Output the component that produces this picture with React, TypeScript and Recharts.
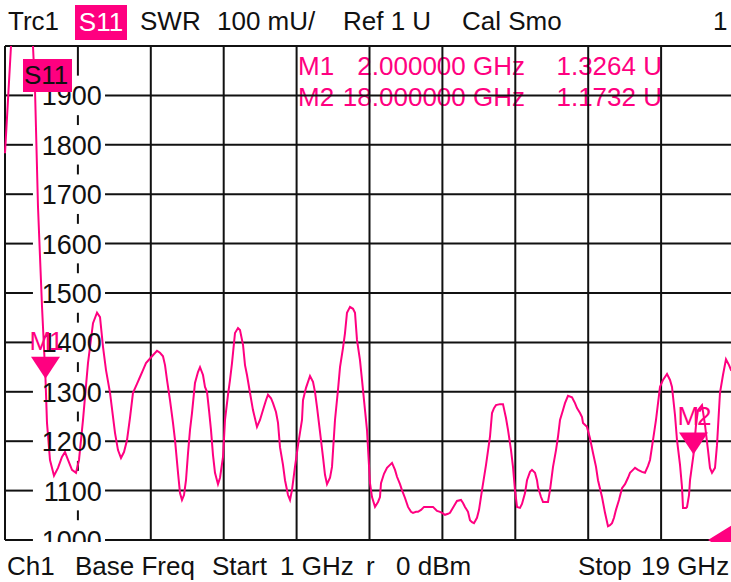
import React from "react";
import { LineChart, Line, XAxis, YAxis, ReferenceLine, ReferenceDot } from "recharts";

// trace S11 (SWR), frequency in GHz, value in mU
const freqGHz = [
  1.0, 1.074, 1.148, 1.494, 1.691, 1.741, 1.815, 1.914, 2.0, 2.037, 2.111, 2.21, 2.309, 2.407, 2.481,
  2.556, 2.654, 2.753, 2.827, 2.926, 3.049, 3.173, 3.272, 3.346, 3.42, 3.494, 3.593, 3.716, 3.79, 3.864,
  3.938, 4.012, 4.086, 4.16, 4.259, 4.333, 4.407, 4.481, 4.63, 4.753, 4.827, 4.901, 4.951, 5.0, 5.074,
  5.148, 5.198, 5.272, 5.321, 5.37, 5.42, 5.469, 5.519, 5.568, 5.617, 5.691, 5.765, 5.815, 5.889, 5.938,
  5.988, 6.037, 6.086, 6.136, 6.185, 6.259, 6.309, 6.383, 6.432, 6.506, 6.556, 6.605, 6.679, 6.753, 6.802,
  6.877, 6.926, 6.975, 7.049, 7.123, 7.222, 7.296, 7.37, 7.444, 7.494, 7.568, 7.617, 7.691, 7.741, 7.79,
  7.864, 7.914, 7.988, 8.037, 8.086, 8.16, 8.235, 8.333, 8.358, 8.432, 8.531, 8.605, 8.654, 8.704, 8.778,
  8.852, 8.901, 8.951, 9.025, 9.074, 9.148, 9.222, 9.272, 9.346, 9.395, 9.444, 9.519, 9.593, 9.642, 9.691,
  9.765, 9.815, 9.889, 9.938, 10.012, 10.062, 10.136, 10.21, 10.259, 10.284, 10.358, 10.432, 10.506, 10.556, 10.63,
  10.679, 10.753, 10.802, 10.877, 10.951, 11.025, 11.074, 11.148, 11.198, 11.272, 11.346, 11.444, 11.568, 11.667, 11.741,
  11.79, 11.864, 11.938, 11.988, 12.086, 12.16, 12.259, 12.309, 12.358, 12.432, 12.481, 12.531, 12.58, 12.654, 12.704,
  12.778, 12.877, 12.975, 13.025, 13.074, 13.123, 13.222, 13.296, 13.37, 13.42, 13.494, 13.543, 13.593, 13.642, 13.716,
  13.765, 13.84, 13.889, 13.963, 14.012, 14.086, 14.136, 14.16, 14.235, 14.284, 14.407, 14.457, 14.531, 14.605, 14.654,
  14.704, 14.778, 14.827, 14.901, 15.0, 15.074, 15.123, 15.198, 15.247, 15.272, 15.37, 15.444, 15.519, 15.593, 15.642,
  15.741, 15.815, 15.889, 15.938, 15.988, 16.037, 16.086, 16.16, 16.235, 16.309, 16.383, 16.432, 16.506, 16.556, 16.63,
  16.728, 16.802, 16.877, 16.926, 17.0, 17.074, 17.173, 17.247, 17.346, 17.42, 17.469, 17.543, 17.593, 17.667, 17.716,
  17.741, 17.815, 17.84, 17.889, 17.914, 18.0, 18.062, 18.111, 18.21, 18.284, 18.358, 18.407, 18.457, 18.531, 18.58,
  18.654, 18.728, 18.802, 18.877, 18.926, 19.0,
];

const swrMilli = [
  1783, 1891, 2000, 2498, 2000, 1911, 1674, 1472, 1326, 1237, 1162, 1130, 1146, 1168, 1178,
  1162, 1142, 1136, 1162, 1243, 1358, 1439, 1460, 1451, 1391, 1344, 1298, 1217, 1182, 1166,
  1178, 1202, 1247, 1298, 1316, 1330, 1344, 1358, 1372, 1383, 1379, 1372, 1354, 1324, 1283,
  1237, 1202, 1136, 1095, 1081, 1091, 1121, 1176, 1223, 1257, 1318, 1340, 1350, 1334, 1310,
  1300, 1263, 1223, 1172, 1136, 1113, 1126, 1168, 1243, 1294, 1324, 1358, 1419, 1429, 1425,
  1395, 1354, 1334, 1298, 1263, 1229, 1243, 1263, 1283, 1294, 1287, 1277, 1259, 1237, 1188,
  1152, 1121, 1091, 1081, 1101, 1148, 1192, 1243, 1283, 1308, 1332, 1320, 1300, 1269, 1219,
  1168, 1132, 1113, 1126, 1148, 1243, 1304, 1350, 1389, 1419, 1460, 1472, 1468, 1460, 1405,
  1364, 1324, 1263, 1223, 1115, 1087, 1067, 1077, 1087, 1115, 1134, 1146, 1152, 1156, 1142,
  1128, 1113, 1101, 1085, 1067, 1057, 1055, 1057, 1057, 1061, 1067, 1067, 1067, 1059, 1057,
  1055, 1051, 1053, 1055, 1069, 1079, 1081, 1075, 1067, 1057, 1040, 1036, 1034, 1045, 1061,
  1101, 1152, 1209, 1257, 1267, 1273, 1275, 1275, 1247, 1223, 1182, 1148, 1101, 1067, 1065,
  1073, 1095, 1121, 1138, 1142, 1136, 1121, 1107, 1087, 1077, 1077, 1101, 1148, 1182, 1209,
  1243, 1263, 1277, 1292, 1289, 1277, 1267, 1257, 1249, 1237, 1229, 1206, 1176, 1148, 1121,
  1087, 1055, 1028, 1030, 1034, 1045, 1061, 1081, 1105, 1113, 1126, 1136, 1142, 1146, 1142,
  1138, 1136, 1150, 1162, 1202, 1243, 1310, 1324, 1336, 1324, 1310, 1253, 1202, 1152, 1107,
  1065, 1065, 1067, 1091, 1121, 1173, 1233, 1263, 1273, 1233, 1182, 1146, 1136, 1146, 1192,
  1298, 1334, 1366, 1354, 1344, 1340,
];

const freqTicks = [1, 2.8, 4.6, 6.4, 8.2, 10, 11.8, 13.6, 15.4, 17.2, 19];
const levelTicks = [1000, 1100, 1200, 1300, 1400, 1500, 1600, 1700, 1800, 1900, 2000];
const levelLabels = [1900, 1800, 1700, 1600, 1500, 1400, 1300, 1200, 1100, 1000];

const markerNames = ["M1", "M2"];
const markerFreq = [2, 18];
const markerValue = [1326.4, 1173.2];
const markerFreqText = ["2.000000 GHz", "18.000000 GHz"];
const markerValueText = ["1.3264 U", "1.1732 U"];

const refLevel = 1000;

// blank area kept around the level labels (GHz from / to, mU half height)
const gapFrom = 1.69;
const gapTo = 3.47;
const gapHalf = 40;

const PINK = "#ff0080";
const INK = "#111";
const FONT = "'Liberation Sans', Arial, sans-serif";

const data = freqGHz.map((f, i) => ({ f, v: swrMilli[i] }));
const labelAxis = freqTicks[1];
const fMin = freqTicks[0];
const fMax = freqTicks[freqTicks.length - 1];
const vTop = levelTicks[levelTicks.length - 1];

function LevelLabel(props: any) {
  const { cx, cy, text } = props;
  return (
    <text x={cx + 24} y={cy + 10} textAnchor="end" fontSize={27} fontFamily={FONT} fill={INK}>
      {text}
    </text>
  );
}

function MarkerShape(props: any) {
  const { cx, cy, name } = props;
  return (
    <g>
      <text x={cx} y={cy - 29} textAnchor="middle" fontSize={26} letterSpacing={-2} fontFamily={FONT} fill={PINK}>
        {name}
      </text>
      <polygon points={`${cx},${cy} ${cx - 14.5},${cy - 22} ${cx + 14.5},${cy - 22}`} fill={PINK} />
    </g>
  );
}

function RefArrow(props: any) {
  const { cx, cy } = props;
  return <polygon points={`${cx - 26},${cy} ${cx},${cy - 16} ${cx},${cy + 16}`} fill={PINK} />;
}

const txt: React.CSSProperties = {
  position: "absolute",
  fontFamily: FONT,
  fontSize: 26,
  lineHeight: "30px",
  color: INK,
  whiteSpace: "pre",
};

export default function App() {
  const hSegments: { key: string; seg: any }[] = [];
  levelTicks.forEach((t) => {
    if (levelLabels.includes(t)) {
      hSegments.push({ key: "a" + t, seg: [{ x: fMin, y: t }, { x: gapFrom, y: t }] });
      hSegments.push({ key: "b" + t, seg: [{ x: gapTo, y: t }, { x: fMax, y: t }] });
    } else {
      hSegments.push({ key: "c" + t, seg: [{ x: fMin, y: t }, { x: fMax, y: t }] });
    }
  });
  // vertical line under the labels, broken where the labels sit
  const vSegments: { key: string; seg: any }[] = [
    { key: "v0", seg: [{ x: labelAxis, y: vTop }, { x: labelAxis, y: levelLabels[0] + gapHalf }] },
  ];
  for (let i = 0; i < levelLabels.length - 1; i++) {
    vSegments.push({
      key: "v" + (i + 1),
      seg: [
        { x: labelAxis, y: levelLabels[i] - gapHalf },
        { x: labelAxis, y: levelLabels[i + 1] + gapHalf },
      ],
    });
  }

  return (
    <div style={{ position: "fixed", left: 0, top: 0, width: 731, height: 582, overflow: "hidden", background: "#fff" }}>
      <LineChart width={740} height={582} data={data} margin={{ top: 46, right: 6, bottom: 42, left: 5 }}>
        <XAxis type="number" dataKey="f" domain={[1, 19]} ticks={freqTicks} hide />
        <YAxis type="number" domain={[1000, 2000]} ticks={levelTicks} allowDataOverflow hide />
        {freqTicks
          .filter((t) => t !== labelAxis)
          .map((t) => (
            <ReferenceLine key={"x" + t} x={t} stroke={INK} strokeWidth={2} />
          ))}
        {vSegments.map((s) => (
          <ReferenceLine key={s.key} segment={s.seg} stroke={INK} strokeWidth={2} />
        ))}
        {hSegments.map((s) => (
          <ReferenceLine key={s.key} segment={s.seg} stroke={INK} strokeWidth={2} />
        ))}
        {levelLabels.map((t) => (
          <ReferenceDot key={"l" + t} x={labelAxis} y={t} shape={(p: any) => <LevelLabel {...p} text={t} />} />
        ))}
        {markerNames.map((n, i) => (
          <text key={n} fontFamily={FONT} fontSize={26} fill={PINK}>
            <tspan x={298} y={75 + i * 31}>{n}</tspan>
            <tspan x={525} textAnchor="end">{markerFreqText[i]}</tspan>
            <tspan x={662} textAnchor="end">{markerValueText[i]}</tspan>
          </text>
        ))}
        <Line
          type="linear"
          dataKey="v"
          stroke={PINK}
          strokeWidth={2}
          dot={false}
          activeDot={false}
          isAnimationActive={false}
        />
        {markerNames.map((n, i) => (
          <ReferenceDot
            key={"m" + n}
            x={markerFreq[i]}
            y={markerValue[i]}
            shape={(p: any) => <MarkerShape {...p} name={n} />}
          />
        ))}
        <ReferenceDot x={19} y={refLevel} ifOverflow="visible" shape={(p: any) => <RefArrow {...p} />} />
      </LineChart>

      {/* trace label inside the diagram */}
      <div style={{ ...txt, left: 23, top: 59, width: 48, height: 33, background: PINK, lineHeight: "33px", paddingLeft: 1 }}>S11</div>

      {/* header */}
      <div style={{ ...txt, left: 8, top: 6 }}>Trc1</div>
      <div style={{ ...txt, left: 75, top: 5, width: 52, height: 35, background: PINK, color: "#fff", lineHeight: "35px", textAlign: "center" }}>S11</div>
      <div style={{ ...txt, left: 140, top: 6 }}>SWR</div>
      <div style={{ ...txt, left: 217, top: 6 }}>100 mU/</div>
      <div style={{ ...txt, left: 343, top: 6 }}>Ref 1 U</div>
      <div style={{ ...txt, left: 462, top: 6 }}>Cal Smo</div>
      <div style={{ ...txt, left: 713, top: 6 }}>1</div>

      {/* footer */}
      <div style={{ position: "absolute", left: 0, top: 542, width: 731, height: 40, background: "#fff" }} />
      <div style={{ ...txt, left: 7, top: 551 }}>Ch1</div>
      <div style={{ ...txt, left: 75, top: 551 }}>Base Freq</div>
      <div style={{ ...txt, left: 212, top: 551 }}>Start</div>
      <div style={{ ...txt, left: 280, top: 551 }}>1 GHz</div>
      <div style={{ ...txt, left: 366, top: 551 }}>r</div>
      <div style={{ ...txt, left: 396, top: 551 }}>0 dBm</div>
      <div style={{ ...txt, left: 578, top: 551 }}>Stop</div>
      <div style={{ ...txt, left: 641, top: 551 }}>19 GHz</div>
    </div>
  );
}
